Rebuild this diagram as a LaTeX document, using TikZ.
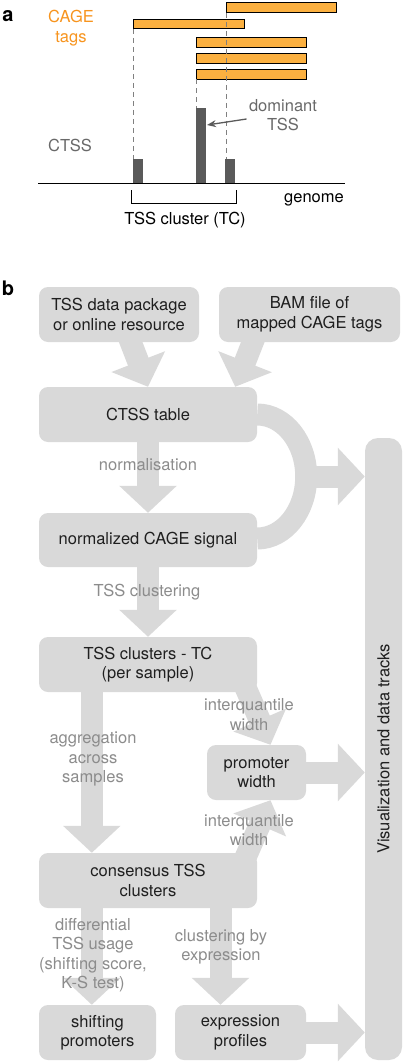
\documentclass[tikz,border=0pt]{standalone}
\usepackage{fontspec}
\setmainfont{TeX Gyre Heros}
\usepackage{xcolor}
\usetikzlibrary{calc}
\usetikzlibrary{arrows.meta}
\definecolor{boxgray}{RGB}{217,217,217}
\definecolor{labelgray}{RGB}{140,140,140}
\definecolor{textgray}{RGB}{105,105,105}
\definecolor{darkbar}{RGB}{90,90,90}
\definecolor{tagorange}{RGB}{251,176,64}
\definecolor{textorange}{RGB}{247,148,30}
\newcommand{\flowfont}{\fontsize{16.5}{19.5}\selectfont}
\tikzset{
  flowbox/.style={fill=boxgray, rounded corners=9pt, inner sep=0pt, align=center, font=\flowfont, text=black!88},
  flow/.style={draw=boxgray, line width=22pt, -{Triangle[length=27pt, width=56pt]}},
  flowlabel/.style={text=labelgray, font=\flowfont, align=center, inner sep=0pt},
  panellabel/.style={font=\fontsize{20}{20}\selectfont\bfseries},
  tagbar/.style={fill=tagorange, draw=black, line width=1pt},
  guide/.style={draw=gray, line width=1pt, dash pattern=on 5pt off 4pt},
}

\begin{document}
\begin{tikzpicture}[x=1pt, y=-1pt]
\useasboundingbox (0,0) rectangle (406,1062);

% panel a: tags and ctss
\node[panellabel] (pa) at (8,16) {a};
\node[text=textorange, font=\flowfont, align=center] (tags) at (71,28) {CAGE\\tags};

\draw[tagbar] (226,3) rectangle (336,13);
\draw[tagbar] (133,20) rectangle (244,29);
\draw[tagbar] (196,38) rectangle (306,47.5);
\draw[tagbar] (196,54) rectangle (306,63.5);
\draw[tagbar] (196,70) rectangle (306,79.5);

\draw[guide] (133,29) -- (133,159);
\draw[guide] (196,79.5) -- (196,108);
\draw[guide] (226,13) -- (226,159);

\fill[darkbar] (133,159) rectangle (143,183);
\fill[darkbar] (196,108) rectangle (206,183);
\fill[darkbar] (225,159) rectangle (235,183);
\coordinate (peak) at (207,125);

\draw[black, line width=0.9pt] (38,183) -- (345,183);
\node[font=\flowfont] (genome) at (314,200) {genome};
\draw[black, line width=0.9pt] (131,190) -- (131,203) -- (236,203) -- (236,190);
\node[font=\flowfont] (tc label) at (185,220) {TSS cluster (TC)};

\node[text=textgray, font=\flowfont] (ctss label) at (70,145) {CTSS};
\node[text=textgray, font=\flowfont, align=center] (dom) at (283,115) {dominant\\TSS};
\draw[darkbar, line width=1.3pt, -{Stealth[length=9pt, width=7pt]}] ($(dom.west)+(1,4)$) -- (peak);

% panel b: workflow boxes
\node[panellabel] (pb) at (8,288) {b};
\node[flowbox, minimum width=160pt, minimum height=55pt] (tss) at (119,314.5) {TSS data package\\or online resource};
\node[flowbox, minimum width=181pt, minimum height=55pt] (bam) at (309.5,314.5) {BAM file of\\mapped CAGE tags};
\node[flowbox, minimum width=218pt, minimum height=55pt] (ctss) at (148,414.5) {CTSS table};
\node[flowbox, minimum width=218pt, minimum height=54pt] (norm) at (148,540) {normalized CAGE signal};
\node[flowbox, minimum width=218pt, minimum height=55pt] (tc) at (148,664.5) {TSS clusters - TC\\(per sample)};
\node[flowbox, minimum width=99pt, minimum height=55pt] (pw) at (256.5,772.5) {promoter\\width};
\node[flowbox, minimum width=218pt, minimum height=55pt] (cons) at (148,880.5) {consensus TSS\\clusters};
\node[flowbox, minimum width=117pt, minimum height=55pt] (shift) at (97.5,1032.5) {shifting\\promoters};
\node[flowbox, minimum width=131pt, minimum height=55pt] (expr) at (240.5,1032.5) {expression\\profiles};
\node[flowbox, minimum width=37pt, minimum height=622pt, rounded corners=13pt] (vis) at (383.5,749) {};
\node[rotate=90, font=\flowfont, text=black!88] (vis text) at (vis) {Visualization and data tracks};

% arrows
\draw[flow] ($(tss.south)+(9,-7)$) -- (ctss.north);
\draw[flow] ($(bam.south)+(-54,-7)$) -- ($(ctss.north east)+(-22,0)$);
\draw[flow] (ctss.south) -- (norm.north);
\draw[flow] (norm.south) -- (tc.north);

\draw[draw=boxgray, line width=22pt] (ctss.east) arc[start angle=-90, end angle=90, x radius=49, y radius=62];
\coordinate (bend) at ($(ctss.east)+(49,62)$);
\draw[flow] (bend) -- (bend -| vis.west);

\coordinate (agg) at ($(tc.south west)+(53,0)$);
\draw[flow] (agg) -- (agg |- cons.north);
\draw[flow] ($(tc.south east)+(-14,-10)$) -- ($(pw.north)+(14,0)$);
\draw[flow] ($(cons.north east)+(-14,10)$) -- ($(pw.south)+(14,0)$);
\draw[flow] (pw.east) -- (pw.east -| vis.west);

\coordinate (diff) at ($(cons.south west)+(53,0)$);
\draw[flow] (diff) -- (diff |- shift.north);
\coordinate (clus) at ($(expr.north)+(-20,0)$);
\draw[flow] (clus |- cons.south) -- (clus);
\draw[flow] (expr.east) -- (expr.east -| vis.west);

% arrow labels
\node[flowlabel] (l norm) at (148,465) {normalisation};
\node[flowlabel] (l clust) at (147,592) {TSS clustering};
\node[flowlabel] (l iq up) at (249,714.5) {interquantile\\width};
\node[flowlabel] (l agg) at (93,759) {aggregation\\across\\samples};
\node[flowlabel] (l iq down) at (249,830) {interquantile\\width};
\node[flowlabel] (l diff) at (93,955) {differential\\TSS usage\\(shifting score,\\K-S test)};
\node[flowlabel] (l expr) at (221,947) {clustering by\\expression};
\end{tikzpicture}
\end{document}
